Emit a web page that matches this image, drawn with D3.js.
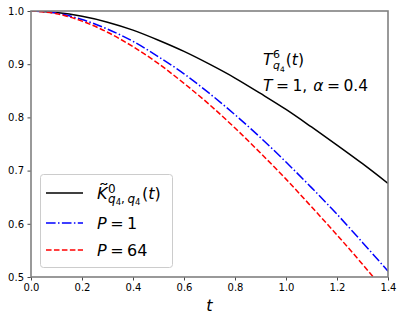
<!DOCTYPE html>
<html>
<head>
<meta charset="utf-8">
<script src="https://cdn.jsdelivr.net/npm/d3@7"></script>
<style>
  body { margin: 0; background: #fff; }
  svg { display: block; }
  text { font-family: "DejaVu Sans", sans-serif; fill: #000; }
</style>
</head>
<body>
<div id="chart"></div>
<script>
// values
var tValues      = [0.0, 0.1, 0.2, 0.3, 0.4, 0.5, 0.6, 0.7, 0.8, 0.9, 1.0, 1.1, 1.2, 1.3, 1.4];
var kernelValues = [1.000, 0.997, 0.990, 0.979, 0.964, 0.945, 0.924, 0.900, 0.874, 0.845, 0.815, 0.782, 0.748, 0.713, 0.676];
var p1Values     = [1.000, 0.996, 0.984, 0.966, 0.943, 0.914, 0.882, 0.845, 0.805, 0.762, 0.716, 0.668, 0.618, 0.565, 0.511];
var p64Values    = [1.000, 0.995, 0.981, 0.960, 0.933, 0.901, 0.864, 0.824, 0.780, 0.733, 0.684, 0.632, 0.579, 0.524, 0.467];
var xTicks = [0.0, 0.2, 0.4, 0.6, 0.8, 1.0, 1.2, 1.4];
var yTicks = [0.5, 0.6, 0.7, 0.8, 0.9, 1.0];

var W = 403, H = 323;
var margin = {top: 11, right: 15, bottom: 46, left: 31},
    width = W - margin.left - margin.right,
    height = H - margin.top - margin.bottom;

var svg = d3.select("#chart").append("svg")
    .attr("width", W)
    .attr("height", H);

var g = svg.append("g")
    .attr("transform", "translate(" + margin.left + "," + margin.top + ")");

var x = d3.scaleLinear().domain([0, 1.4]).range([0, width]);
var y = d3.scaleLinear().domain([0.5, 1.0]).range([height, 0]);

svg.append("defs").append("clipPath").attr("id", "plotclip")
  .append("rect").attr("width", width).attr("height", height);

// Series
var series = [
    {vals: kernelValues, color: "#000000", dash: null},
    {vals: p1Values,     color: "#0000ff", dash: "9.6,2.4,1.5,2.4"},
    {vals: p64Values,    color: "#ff0000", dash: "5.55,2.4"}
];

var line = d3.line()
    .curve(d3.curveMonotoneX)
    .x(function(d) { return x(d[0]); })
    .y(function(d) { return y(d[1]); });

var plot = g.append("g").attr("clip-path", "url(#plotclip)");
series.forEach(function(s) {
    plot.append("path")
        .attr("d", line(tValues.map(function(t, i) { return [t, s.vals[i]]; })))
        .attr("fill", "none")
        .attr("stroke", s.color)
        .attr("stroke-width", 1.5)
        .attr("stroke-dasharray", s.dash);
});

// Axes
var xAxis = d3.axisBottom(x).tickValues(xTicks).tickFormat(d3.format(".1f"))
    .tickSize(3.5).tickPadding(3.5).tickSizeOuter(0);
var yAxis = d3.axisLeft(y).tickValues(yTicks).tickFormat(d3.format(".1f"))
    .tickSize(3.5).tickPadding(3.5).tickSizeOuter(0);

var gx = g.append("g").attr("transform", "translate(0," + height + ")").call(xAxis);
var gy = g.append("g").call(yAxis);
[gx, gy].forEach(function(a) {
    a.selectAll("text").style("font-size", "10px").attr("fill", "#000");
    a.selectAll(".tick line").attr("stroke", "#333").attr("stroke-width", 0.9);
    a.select(".domain").remove();
});

// Spines
var spineColor = "#808080";
g.append("rect")
    .attr("width", width).attr("height", height)
    .attr("fill", "none")
    .attr("stroke", spineColor)
    .attr("stroke-width", 1.6);

// x label
g.append("text")
    .attr("x", x(0.7)).attr("y", height + 34)
    .attr("text-anchor", "middle")
    .style("font-size", "16px").style("font-style", "italic")
    .text("t");

// mini math-text helper: each part placed after the previous one
function mathText(parent, x0, y0, parts) {
    var cx = x0, lastStart = x0, maxEnd = x0;
    parts.forEach(function(p) {
        var startX = p.stack ? lastStart : cx;
        var t = parent.append("text")
            .attr("x", startX)
            .attr("y", y0 + (p.dy || 0))
            .style("font-size", p.fs + "px")
            .style("font-style", p.it ? "italic" : "normal")
            .text(p.s);
        var w = t.node().getComputedTextLength();
        if (p.tilde) {
            // accent drawn as its own glyph, just above the letter
            parent.append("text")
                .attr("x", startX + w / 2 + 1.5).attr("y", y0 - 4)
                .attr("text-anchor", "middle")
                .attr("transform", "translate(" + (startX + w / 2 + 1.5) + ",0) scale(1.4,1) translate(" + (-(startX + w / 2 + 1.5)) + ",0)")
                .style("font-size", p.fs + "px")
                .text("\u02DC");
        }
        if (p.stack) {
            maxEnd = Math.max(maxEnd, startX + w);
            cx = maxEnd;
        } else {
            lastStart = startX;
            cx = startX + w + (p.gap || 0);
            maxEnd = cx;
        }
    });
    return cx;
}

// Annotation
var ann = g.append("g");
mathText(ann, 263 - margin.left, 65 - margin.top, [
    {s: "T", it: true, fs: 15.5, gap: 0.5},
    {s: "6", fs: 11, dy: -7},
    {s: "q", it: true, fs: 11, dy: 4, stack: true},
    {s: "4", fs: 7.5, dy: 6.5, gap: 1},
    {s: "(", fs: 15.5},
    {s: "t", it: true, fs: 15.5},
    {s: ")", fs: 15.5}
]);
mathText(ann, 263 - margin.left, 91 - margin.top, [
    {s: "T", it: true, fs: 15.5, gap: 3.5},
    {s: "=", fs: 15.5, gap: 3.5},
    {s: "1,", fs: 15.5, gap: 6},
    {s: "\u03B1", it: true, fs: 15.5, gap: 3.5},
    {s: "=", fs: 15.5, gap: 3.5},
    {s: "0.4", fs: 15.5}
]);

// Legend
var leg = svg.append("g");
leg.append("rect")
    .attr("x", 40.5).attr("y", 174.5)
    .attr("width", 132).attr("height", 93)
    .attr("rx", 3)
    .attr("fill", "#fff").attr("fill-opacity", 0.8)
    .attr("stroke", "#cccccc").attr("stroke-width", 1);

var legY = [193, 223, 250];
series.forEach(function(s, i) {
    leg.append("line")
        .attr("x1", 46).attr("x2", 83)
        .attr("y1", legY[i]).attr("y2", legY[i])
        .attr("stroke", s.color)
        .attr("stroke-width", 1.5)
        .attr("stroke-dasharray", s.dash);
});

mathText(leg, 97, 199, [
    {s: "K", it: true, fs: 16, tilde: true, gap: 0.5},
    {s: "0", fs: 12, dy: -6.5},
    {s: "q", it: true, fs: 12, dy: 3.5, stack: true},
    {s: "4", fs: 8.5, dy: 6},
    {s: ",", fs: 12, dy: 3.5, gap: 2.5},
    {s: "q", it: true, fs: 12, dy: 3.5},
    {s: "4", fs: 8.5, dy: 6, gap: 1.5},
    {s: "(", fs: 16},
    {s: "t", it: true, fs: 16},
    {s: ")", fs: 16}
]);
mathText(leg, 97, 229, [
    {s: "P", it: true, fs: 16, gap: 3.5},
    {s: "=", fs: 16, gap: 3.5},
    {s: "1", fs: 16}
]);
mathText(leg, 97, 256, [
    {s: "P", it: true, fs: 16, gap: 3.5},
    {s: "=", fs: 16, gap: 3.5},
    {s: "64", fs: 16}
]);
</script>
</body>
</html>
